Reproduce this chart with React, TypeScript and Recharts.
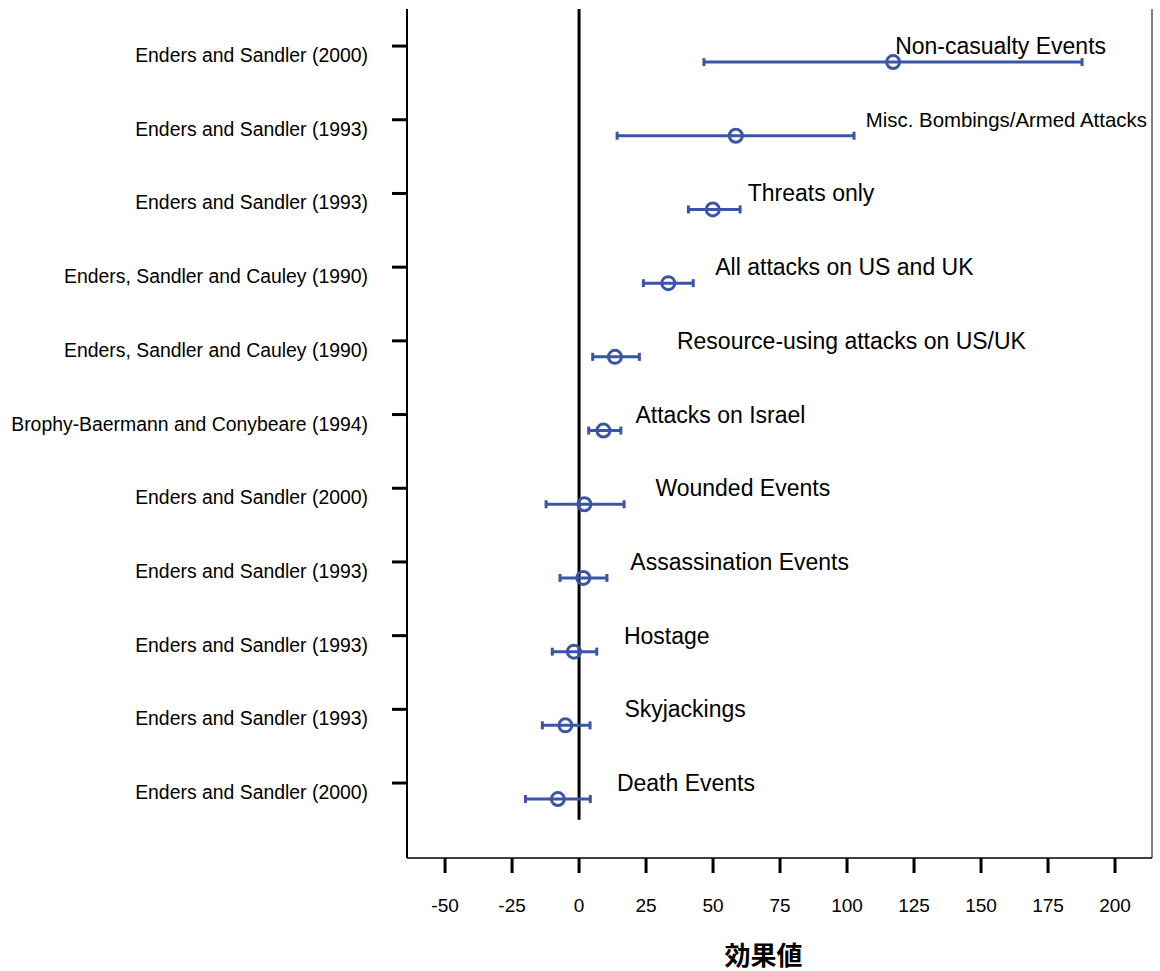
import React from "react";
import {
  ErrorBar,
  ReferenceLine,
  Scatter,
  ScatterChart,
  XAxis,
  YAxis,
} from "recharts";

// Rows listed top to bottom, as they appear on the plot
const studies = [
  "Enders and Sandler (2000)",
  "Enders and Sandler (1993)",
  "Enders and Sandler (1993)",
  "Enders, Sandler and Cauley (1990)",
  "Enders, Sandler and Cauley (1990)",
  "Brophy-Baermann and Conybeare (1994)",
  "Enders and Sandler (2000)",
  "Enders and Sandler (1993)",
  "Enders and Sandler (1993)",
  "Enders and Sandler (1993)",
  "Enders and Sandler (2000)",
];

const outcomes = [
  "Non-casualty Events",
  "Misc. Bombings/Armed Attacks",
  "Threats only",
  "All attacks on US and UK",
  "Resource-using attacks on US/UK",
  "Attacks on Israel",
  "Wounded Events",
  "Assassination Events",
  "Hostage",
  "Skyjackings",
  "Death Events",
];

const estimates = [117.2, 58.5, 49.9, 33.3, 13.4, 9.1, 2.0, 1.6, -1.9, -5.1, -7.9];
const lower = [46.6, 14.2, 40.8, 24.0, 5.1, 3.6, -12.3, -7.1, -10.0, -13.7, -20.0];
const upper = [187.7, 102.6, 60.1, 42.6, 22.5, 15.6, 16.8, 10.4, 6.6, 4.1, 4.2];

const xTicks = [-50, -25, 0, 25, 50, 75, 100, 125, 150, 175, 200];

// horizontal shift (px) of each outcome caption from its marker
const captionShift = [2, 130, 35, 47, 62, 32, 71, 47, 50, 59, 59];

const N = studies.length;
const X_DOMAIN: [number, number] = [-64.2, 213.8];
const Y_DOMAIN: [number, number] = [-0.8, 10.72];
const BLUE = "#3B54A4";
const FONT = "'Liberation Sans', Arial, Helvetica, sans-serif";

const rows = estimates.map((est, i) => ({
  x: est,
  y: N - 1 - i,
  err: [est - lower[i], upper[i] - est],
  note: outcomes[i],
  shift: captionShift[i],
}));

function StudyTick(props: any) {
  const { x, y, payload } = props;
  const label = studies[N - 1 - payload.value];
  if (label === undefined) return null;
  return (
    <g>
      <line x1={x - 15} x2={x} y1={y - 16} y2={y - 16} stroke="#000" strokeWidth={3} />
      <text
        x={x - 39}
        y={y - 7}
        textAnchor="end"
        dominantBaseline="central"
        fontSize={19.4}
        fontFamily={FONT}
        fill="#000"
      >
        {label}
      </text>
    </g>
  );
}

function Marker(props: any) {
  const { cx, cy, payload } = props;
  const small = payload.note.startsWith("Misc");
  return (
    <g>
      <circle cx={cx} cy={cy} r={6.5} fill="none" stroke={BLUE} strokeWidth={3} />
      <text
        x={cx + payload.shift}
        y={cy - 16}
        dominantBaseline="central"
        fontSize={small ? 20.4 : 23}
        fontFamily={FONT}
        fill="#000"
      >
        {payload.note}
      </text>
    </g>
  );
}

function AxisTitle(props: any) {
  const vb = props.viewBox;
  return (
    <text
      x={vb.x + vb.width / 2 - 16}
      y={vb.y + vb.height - 6}
      textAnchor="middle"
      fontSize={26}
      fontWeight="bold"
      fontFamily="'Noto Sans CJK JP', 'Noto Sans CJK SC', sans-serif"
      fill="#000"
    >
      効果値
    </text>
  );
}

export default function App() {
  return (
    <div style={{ position: "absolute", left: 0, top: 0, background: "#fff" }}>
      <ScatterChart
        width={1160}
        height={971}
        margin={{ top: 9, right: 8, bottom: 0, left: 0 }}
        style={{ fontFamily: FONT }}
      >
        <XAxis
          type="number"
          dataKey="x"
          domain={X_DOMAIN}
          allowDataOverflow
          ticks={xTicks}
          height={113}
          tickSize={15}
          tickMargin={26}
          tickLine={{ stroke: "#000", strokeWidth: 3 }}
          axisLine={{ stroke: "#000", strokeWidth: 1.5 }}
          tick={{ fontSize: 19, fill: "#000", fontFamily: FONT }}
          label={{ content: AxisTitle }}
        />
        <YAxis
          type="number"
          dataKey="y"
          domain={Y_DOMAIN}
          allowDataOverflow
          ticks={studies.map((_, i) => i)}
          width={407}
          tickSize={0}
          tickMargin={0}
          tickLine={false}
          axisLine={{ stroke: "#000", strokeWidth: 2 }}
          tick={<StudyTick />}
        />
        <ReferenceLine x={X_DOMAIN[1]} stroke="#000" strokeWidth={1} />
        <ReferenceLine
          segment={[
            { x: 0, y: Y_DOMAIN[1] },
            { x: 0, y: -0.28 },
          ]}
          stroke="#000"
          strokeWidth={3}
        />
        <Scatter data={rows} shape={<Marker />} isAnimationActive={false}>
          <ErrorBar
            dataKey="err"
            direction="x"
            width={4}
            stroke={BLUE}
            strokeWidth={3}
            isAnimationActive={false}
          />
        </Scatter>
      </ScatterChart>
    </div>
  );
}
